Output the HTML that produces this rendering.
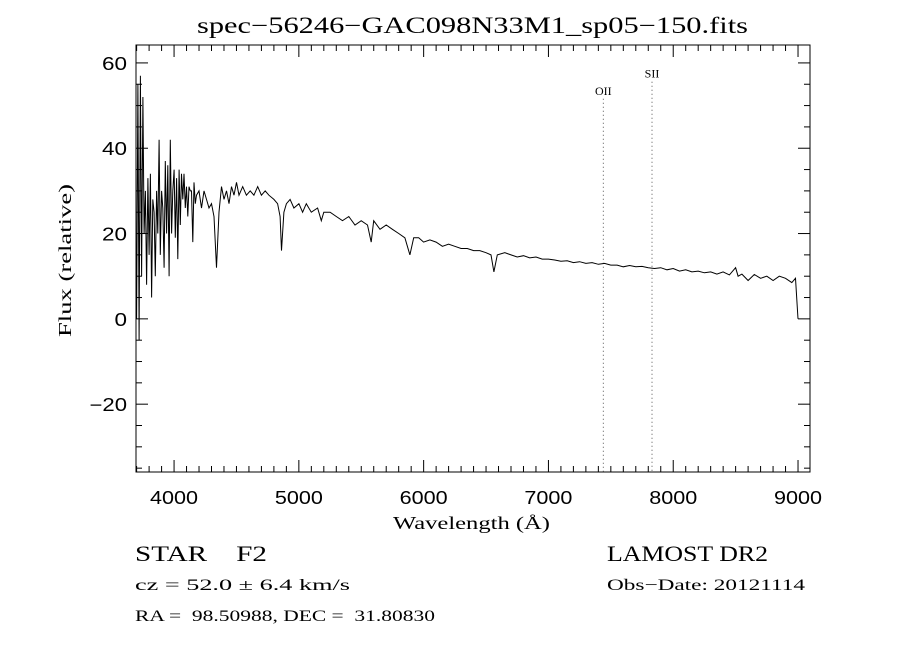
<!DOCTYPE html>
<html><head><meta charset="utf-8"><style>
body{margin:0;background:#fff}
svg{display:block;font-family:"Liberation Serif","DejaVu Serif",serif}
</style></head><body>
<svg id="chart" width="900" height="650" viewBox="0 0 900 650">
<text x="197" y="33" textLength="551" lengthAdjust="spacingAndGlyphs" font-size="23">spec−56246−GAC098N33M1_sp05−150.fits</text>
<rect x="136" y="45" width="674" height="427" fill="none" stroke="#000" stroke-width="1"/>
<g id="ticks"></g>
<g id="marks"></g>
<path id="spec" fill="none" stroke="#000" stroke-width="1"/>
<text x="393" y="529" textLength="157" lengthAdjust="spacingAndGlyphs" font-size="18">Wavelength (Å)</text>
<text transform="translate(71,337) rotate(-90)" textLength="153" lengthAdjust="spacingAndGlyphs" font-size="18">Flux (relative)</text>
<text x="135" y="561" textLength="132" lengthAdjust="spacingAndGlyphs" font-size="22" xml:space="preserve">STAR    F2</text>
<text x="135" y="590" textLength="215" lengthAdjust="spacingAndGlyphs" font-size="16">cz = 52.0 ± 6.4 km/s</text>
<text x="135" y="621" textLength="300" lengthAdjust="spacingAndGlyphs" font-size="16" xml:space="preserve">RA =  98.50988, DEC =  31.80830</text>
<text x="607" y="561" textLength="161" lengthAdjust="spacingAndGlyphs" font-size="22">LAMOST DR2</text>
<text x="607" y="590" textLength="198" lengthAdjust="spacingAndGlyphs" font-size="16">Obs−Date: 20121114</text>
</svg>
<script>
const wavelengths=[3700,3710,3720,3730,3740,3750,3760,3770,3780,3790,3800,3810,3820,3830,3840,3850,3860,3870,3880,3890,3900,3910,3920,3930,3940,3950,3960,3970,3980,3990,4000,4010,4020,4030,4040,4050,4060,4070,4080,4090,4100,4110,4120,4130,4140,4150,4160,4170,4180,4200,4220,4240,4260,4280,4300,4320,4340,4360,4380,4400,4420,4440,4460,4480,4500,4520,4550,4580,4610,4640,4670,4700,4730,4760,4800,4830,4850,4861,4880,4900,4930,4960,5000,5030,5060,5100,5150,5180,5200,5250,5300,5350,5400,5450,5500,5550,5580,5600,5650,5700,5750,5800,5850,5890,5920,5960,6000,6050,6100,6150,6200,6250,6300,6350,6400,6450,6500,6540,6563,6590,6650,6700,6750,6800,6850,6900,6950,7000,7050,7100,7150,7200,7250,7300,7350,7400,7450,7500,7550,7600,7650,7700,7750,7800,7850,7900,7950,8000,8050,8100,8150,8200,8250,8300,8350,8400,8450,8500,8520,8550,8600,8650,8700,8750,8800,8850,8900,8950,8980,9000];
const flux=[0,55,-5,57,10,52,20,30,8,33,15,34,5,28,25,10,30,20,42,15,30,26,12,37,20,36,10,42,20,30,35,19,33,14,35,22,34,28,34,26,31,24,31,30,30,18,32,27,29,30,26,30,28,26,27,24,12,25,31,28,30,27,31,29,32,29,31,29,30,29,31,29,30,29,28,27,24,16,25,27,28,26,27,25,27,25,26,23,25,25,24,23,24,22,23,22,18,23,21,22,21,20,19,15,19,19,18,18.5,18,17,17.5,17,16.5,16.5,16,16,15.5,15,11,15,15.5,15,14.5,14.8,14.3,14.5,14,14,13.8,13.5,13.6,13.2,13.4,13,13.2,12.8,13,12.6,12.6,12.2,12.5,12.2,12.3,12,11.8,12,11.5,11.8,11.2,11.5,11,11.2,10.8,11,10.5,11,10.3,12,10,10.5,9,10.4,9.5,10,9,10,9.5,8.5,9.5,0];
const xTicks=[4000,5000,6000,7000,8000,9000];
const yTicks=[-20,0,20,40,60];
const lineNames=["OII","SII"];
const lineWaves=[7440,7830];
const lineLabelFlux=[53,57];
const X0=136,X1=810,Y0=472,Y1=45,XMIN=3695,XMAX=9096,YMIN=-35.9,YMAX=64.2;
const sx=w=>X0+(w-XMIN)/(XMAX-XMIN)*(X1-X0);
const sy=f=>Y0-(f-YMIN)/(YMAX-YMIN)*(Y0-Y1);
const NS="http://www.w3.org/2000/svg";
const tg=document.getElementById('ticks');
function ln(p,x1,y1,x2,y2,dash,col){const l=document.createElementNS(NS,'line');l.setAttribute('x1',x1);l.setAttribute('y1',y1);l.setAttribute('x2',x2);l.setAttribute('y2',y2);l.setAttribute('stroke',col||'#000');if(dash)l.setAttribute('stroke-dasharray',dash);p.appendChild(l);return l;}
for(let w=3700;w<=9090;w+=100){const big=w%1000===0;const h=big?12:6;
const a=ln(tg,sx(w),Y0,sx(w),Y0-h);
const b=ln(tg,sx(w),Y1,sx(w),Y1+h);}
for(let v=-35;v<=60;v+=5){const big=v%20===0;const h=big?12:6;
const a=ln(tg,X0,sy(v),X0+h,sy(v));
const b=ln(tg,X1,sy(v),X1-h,sy(v));}
xTicks.forEach(w=>{const t=document.createElementNS(NS,'text');t.setAttribute('x',sx(w)-24);t.setAttribute('y',504);t.setAttribute('textLength','48');t.setAttribute('lengthAdjust','spacingAndGlyphs');t.setAttribute('font-size','18');t.setAttribute('font-family','"Liberation Sans",sans-serif');t.textContent=w;


tg.appendChild(t);});
yTicks.forEach(v=>{const s=v<0?'−'+(-v):String(v);const wdt=s.length*12.5;const t=document.createElementNS(NS,'text');t.setAttribute('x',127-wdt);t.setAttribute('y',sy(v)+7);t.setAttribute('textLength',wdt);t.setAttribute('lengthAdjust','spacingAndGlyphs');t.setAttribute('font-size','18');t.setAttribute('font-family','"Liberation Sans",sans-serif');t.textContent=s;


tg.appendChild(t);});
const mg=document.getElementById('marks');
lineWaves.forEach((w,i)=>{const l=ln(mg,sx(w),sy(lineLabelFlux[i])+6,sx(w),Y0,'1,3','#555');


const t=document.createElementNS(NS,'text');t.setAttribute('x',sx(w));t.setAttribute('y',sy(lineLabelFlux[i])+2);t.setAttribute('text-anchor','middle');t.setAttribute('font-size','12');t.textContent=lineNames[i];


mg.appendChild(t);});
let d='';wavelengths.forEach((w,i)=>{d+=(i?'L':'M')+sx(w).toFixed(1)+','+sy(flux[i]).toFixed(1);});
document.getElementById('spec').setAttribute('d',d);
</script>
</body></html>
